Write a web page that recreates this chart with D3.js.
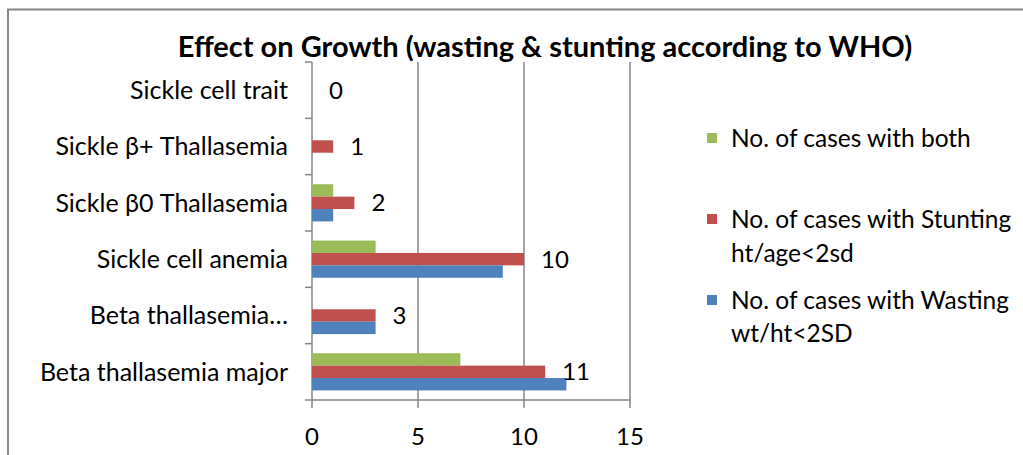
<!DOCTYPE html>
<html>
<head>
<meta charset="utf-8">
<script src="https://cdn.jsdelivr.net/npm/d3@7/dist/d3.min.js"></script>
<style>
  html, body { margin: 0; padding: 0; background: #fff; }
  svg { display: block; font-family: Lato, "Open Sans", sans-serif; }
</style>
</head>
<body>
<svg id="chart" width="1023" height="455"></svg>
<script>
// ---- data ----
const categories = [
  "Sickle cell trait",
  "Sickle \u03B2+ Thallasemia",
  "Sickle \u03B20 Thallasemia",
  "Sickle cell anemia",
  "Beta thallasemia\u2026",
  "Beta thallasemia major"
];
const seriesNames = [
  "No. of cases with both",
  "No. of cases with Stunting ht/age<2sd",
  "No. of cases with Wasting wt/ht<2SD"
];
const bothValues     = [0, 0, 1, 3, 0, 7];
const stuntingValues = [0, 1, 2, 10, 3, 11];
const wastingValues  = [0, 0, 1, 9, 3, 12];
const xTicks = [0, 5, 10, 15];
const legendLines = [
  ["No. of cases with both"],
  ["No. of cases with Stunting", "ht/age<2sd"],
  ["No. of cases with Wasting", "wt/ht<2SD"]
];
const colors = ["#9BBB59", "#C0504D", "#4F81BD"];
const titleText = "Effect on Growth (wasting & stunting according to WHO)";

// ---- layout ----
const svg = d3.select("#chart");
const plot = { left: 312, right: 630, top: 62, bottom: 400 };
const axisColor = "#868686";

const x = d3.scaleLinear().domain([0, 15]).range([plot.left, plot.right]);
const y0 = d3.scaleBand().domain(categories).range([plot.top, plot.bottom]);
const groupH = y0.bandwidth() * 0.66;
const y1 = d3.scaleBand().domain(seriesNames)
  .range([(y0.bandwidth() - groupH) / 2, (y0.bandwidth() + groupH) / 2]);

const seriesValues = [bothValues, stuntingValues, wastingValues];

// chart border
svg.append("path")
  .attr("d", "M8,460 L8,9.5 L1030,9.5")
  .attr("fill", "none").attr("stroke", "#878787").attr("stroke-width", 2);

// title
svg.append("text")
  .attr("x", 545).attr("y", 57)
  .attr("text-anchor", "middle")
  .attr("font-weight", "bold")
  .attr("font-size", 29)
  .text(titleText);

// gridlines (vertical)
svg.append("g").selectAll("line").data(xTicks).join("line")
  .attr("x1", d => x(d)).attr("x2", d => x(d))
  .attr("y1", plot.top).attr("y2", plot.bottom + 8)
  .attr("stroke", axisColor).attr("stroke-width", 1.5);

// x axis line
svg.append("line")
  .attr("x1", plot.left - 7).attr("x2", plot.right)
  .attr("y1", plot.bottom).attr("y2", plot.bottom)
  .attr("stroke", axisColor).attr("stroke-width", 1.5);

// category tick marks
const boundaries = categories.map(c => y0(c));
svg.append("g").selectAll("line").data(boundaries).join("line")
  .attr("x1", plot.left - 7).attr("x2", plot.left)
  .attr("y1", d => d).attr("y2", d => d)
  .attr("stroke", axisColor).attr("stroke-width", 1.5);

// x tick labels
svg.append("g").selectAll("text").data(xTicks).join("text")
  .attr("x", d => x(d)).attr("y", 445)
  .attr("text-anchor", "middle")
  .attr("font-size", 24)
  .text(d => d);

// category labels
svg.append("g").selectAll("text").data(categories).join("text")
  .attr("x", 288)
  .attr("y", d => y0(d) + y0.bandwidth() / 2)
  .attr("dy", "0.35em")
  .attr("text-anchor", "end")
  .attr("font-size", 25)
  .text(d => d);

// bars
seriesNames.forEach((s, si) => {
  svg.append("g").selectAll("rect").data(categories).join("rect")
    .attr("x", x(0))
    .attr("y", d => y0(d) + y1(s))
    .attr("width", (d, i) => x(seriesValues[si][i]) - x(0))
    .attr("height", y1.bandwidth())
    .attr("fill", colors[si]);
});

// data labels on stunting series
svg.append("g").selectAll("text").data(categories).join("text")
  .attr("x", (d, i) => x(stuntingValues[i]) + 17)
  .attr("y", d => y0(d) + y1(seriesNames[1]) + y1.bandwidth() / 2)
  .attr("dy", "0.35em")
  .attr("font-size", 24)
  .text((d, i) => stuntingValues[i]);

// legend
const legendY = [[138], [219, 253], [300, 333]];
legendLines.forEach((lines, i) => {
  svg.append("rect")
    .attr("x", 707).attr("y", legendY[i][0] - 5)
    .attr("width", 10).attr("height", 10)
    .attr("fill", colors[i]);
  lines.forEach((t, j) => {
    svg.append("text")
      .attr("x", 731).attr("y", legendY[i][j])
      .attr("dy", "0.35em")
      .attr("font-size", 24.5)
      .text(t);
  });
});
</script>
</body>
</html>
